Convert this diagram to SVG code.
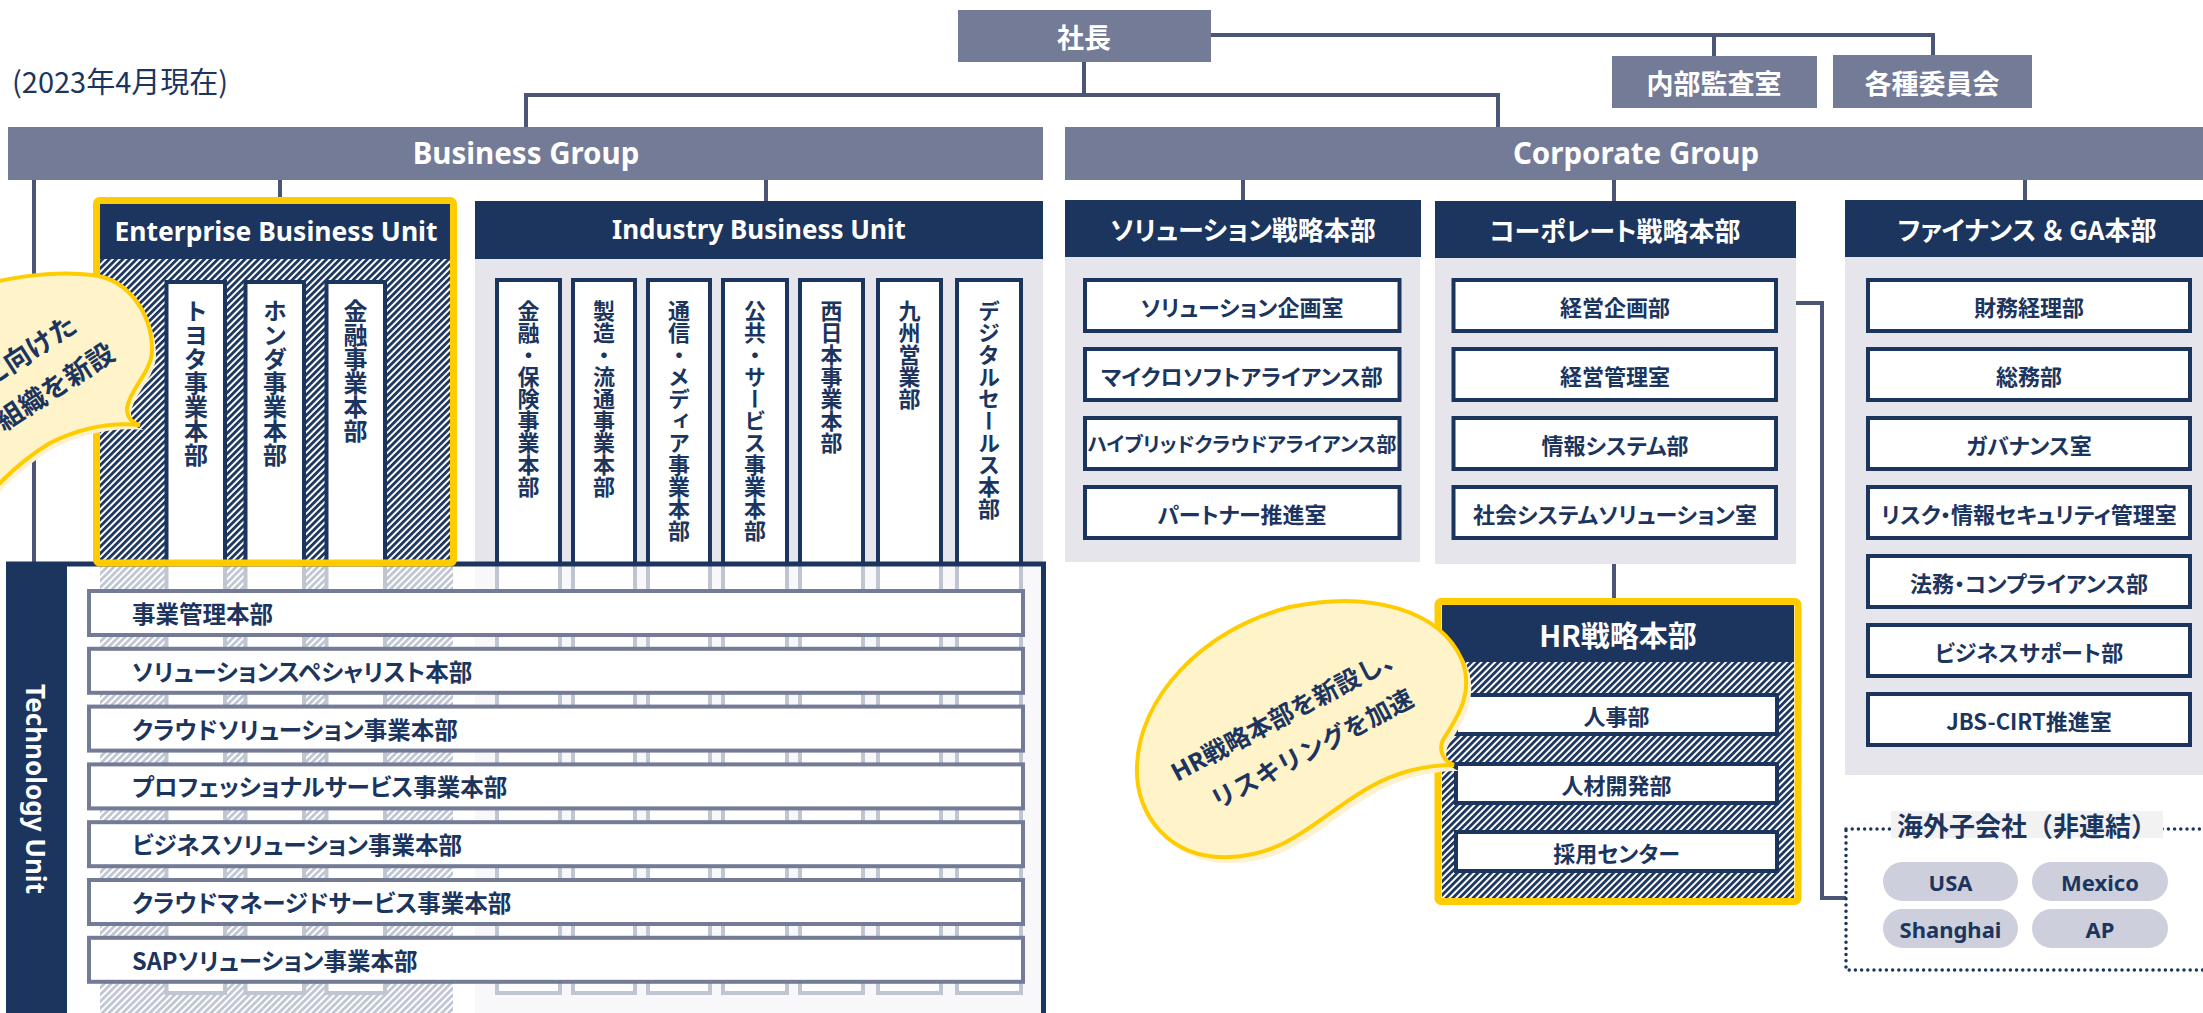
<svg xmlns="http://www.w3.org/2000/svg" width="2203" height="1013" viewBox="0 0 2203 1013">
<style>
.bar{fill:#737b97}
.navy{fill:#1c355e}
.panel{fill:#e5e5eb}
.box{fill:#fff;stroke:#1c355e;stroke-width:4}
.row{fill:#fff;stroke:#737b97;stroke-width:4}
.conn{fill:none;stroke:#4b5677;stroke-width:4}
.yel{fill:none;stroke:#ffcc00;stroke-width:7}
.wt{fill:#fff;font-family:"Noto Sans","Noto Sans CJK JP",sans-serif;font-weight:700;text-anchor:middle;dominant-baseline:central}
.wj{fill:#fff;font-family:"Noto Sans CJK JP","Noto Sans",sans-serif;font-weight:700;text-anchor:middle;dominant-baseline:central;font-feature-settings:"palt" 1}
.nj{fill:#1c355e;font-family:"Noto Sans CJK JP","Noto Sans",sans-serif;font-weight:700;font-size:22px;text-anchor:middle;dominant-baseline:central;font-feature-settings:"palt" 1}
.nj20{font-size:20px}
.rt{fill:#1c355e;font-family:"Noto Sans CJK JP","Noto Sans",sans-serif;font-weight:700;font-size:23.5px;dominant-baseline:central;font-feature-settings:"palt" 1}
.vt{fill:#1c355e;font-family:"Noto Sans CJK JP",sans-serif;font-weight:700;font-size:22px;writing-mode:vertical-rl}
.vt24{font-size:24px}
.pill{fill:#cdd0dc}
.pt{fill:#1c355e;font-family:"Noto Sans",sans-serif;font-weight:700;font-size:22px;text-anchor:middle;dominant-baseline:central}
.bub{fill:#fff3c9;stroke:#ffcc00;stroke-width:4}
.bubs{fill:#fdf1cf}
.bt{fill:#1c355e;font-family:"Noto Sans","Noto Sans CJK JP",sans-serif;font-weight:700}
</style>
<defs>
<pattern id="hatch" patternUnits="userSpaceOnUse" width="4.8" height="4.8" patternTransform="rotate(45)">
<rect width="4.8" height="4.8" fill="#fff"/>
<rect width="2.8" height="4.8" fill="#1c355e"/>
</pattern>
</defs>

<text x="12" y="93" style="fill:#1c355e;font-family:'Noto Sans CJK JP','Noto Sans',sans-serif;font-size:29px">(2023年4月現在)</text>

<g id="connectors">
<path class="conn" d="M1210,35 H1933 V56 M1714,35 V56"/>
<path class="conn" d="M1084,62 V95 M526,95 H1498 M526,93 V127 M1498,93 V127"/>
<path class="conn" d="M34,180 V562 M280,180 V198 M766,180 V201"/>
<path class="conn" d="M1243,180 V200 M1614,180 V201 M2025,180 V200"/>
<path class="conn" d="M1614,564 V598"/>
<path class="conn" d="M1778,303 H1822 V898 H1846"/>
</g>

<g id="president"><rect class="bar" x="958" y="10" width="253" height="52"/><text class="wj" x="1084" y="36" font-size="27">社長</text></g>
<g id="audit"><rect class="bar" x="1612" y="56" width="205" height="52"/><text class="wj" x="1714" y="82" font-size="27">内部監査室</text></g>
<g id="committees"><rect class="bar" x="1833" y="55" width="199" height="53"/><text class="wj" x="1932" y="82" font-size="27">各種委員会</text></g>

<g id="business-group"><rect class="bar" x="8" y="127" width="1035" height="53"/><text class="wt" x="526" y="152" font-size="29.5">Business Group</text></g>
<g id="corporate-group"><rect class="bar" x="1065" y="127" width="1138" height="53"/><text class="wt" x="1636" y="152" font-size="29.5">Corporate Group</text></g>

<g id="industry-bu">
<rect class="navy" x="475" y="201" width="568" height="58"/>
<text class="wt" x="759" y="229" font-size="26">Industry Business Unit</text>
<rect class="panel" x="475" y="259" width="568" height="754"/>
<rect class="box" x="497" y="280" width="63" height="713"/>
<rect class="box" x="573" y="280" width="62" height="713"/>
<rect class="box" x="648" y="280" width="62" height="713"/>
<rect class="box" x="723" y="280" width="64" height="713"/>
<rect class="box" x="800" y="280" width="63" height="713"/>
<rect class="box" x="878" y="280" width="63" height="713"/>
<rect class="box" x="957" y="280" width="64" height="713"/>
<text class="vt" x="528.5" y="300">金融・保険事業本部</text>
<text class="vt" x="604" y="300">製造・流通事業本部</text>
<text class="vt" x="679" y="300">通信・メディア事業本部</text>
<text class="vt" x="755" y="300">公共・サービス事業本部</text>
<text class="vt" x="831.5" y="300">西日本事業本部</text>
<text class="vt" x="909.5" y="300">九州営業部</text>
<text class="vt" x="989" y="300">デジタルセールス本部</text>
</g>

<g id="enterprise-bu">
<rect fill="url(#hatch)" x="100" y="259" width="353" height="754"/>
<rect class="navy" x="100" y="204" width="353" height="55"/>
<text class="wt" x="276" y="231" font-size="26.5">Enterprise Business Unit</text>
<rect class="box" x="166.5" y="282" width="58.5" height="711"/>
<rect class="box" x="245.5" y="282" width="58.5" height="711"/>
<rect class="box" x="326.5" y="282" width="58.5" height="711"/>
<text class="vt vt24" x="196" y="299">トヨタ事業本部</text>
<text class="vt vt24" x="275" y="299">ホンダ事業本部</text>
<text class="vt vt24" x="355.5" y="299">金融事業本部</text>
</g>

<g id="technology-unit">
<rect fill="#fff" opacity="0.72" x="67" y="566" width="976" height="447"/>
<rect x="8.5" y="564" width="1035" height="470" fill="none" stroke="#1c355e" stroke-width="5"/>
<rect class="navy" x="6" y="562" width="61" height="451"/>
<text class="wt" font-size="26" transform="translate(36,789) rotate(90)">Technology Unit</text>
<rect class="row" x="89" y="591" width="934" height="44"/>
<rect class="row" x="89" y="648.8" width="934" height="44"/>
<rect class="row" x="89" y="706.6" width="934" height="44"/>
<rect class="row" x="89" y="764.4" width="934" height="44"/>
<rect class="row" x="89" y="822.2" width="934" height="44"/>
<rect class="row" x="89" y="880" width="934" height="44"/>
<rect class="row" x="89" y="937.8" width="934" height="44"/>
<text class="rt" x="132" y="613">事業管理本部</text>
<text class="rt" x="132" y="670.8">ソリューションスペシャリスト本部</text>
<text class="rt" x="132" y="728.6">クラウドソリューション事業本部</text>
<text class="rt" x="132" y="786.4">プロフェッショナルサービス事業本部</text>
<text class="rt" x="132" y="844.2">ビジネスソリューション事業本部</text>
<text class="rt" x="132" y="902">クラウドマネージドサービス事業本部</text>
<text class="rt" x="132" y="959.8">SAPソリューション事業本部</text>
</g>

<rect class="yel" x="96.5" y="200.5" width="357" height="362.5" rx="3"/>

<g id="solution-hq">
<rect class="navy" x="1065" y="200" width="356" height="57"/>
<text class="wj" x="1243" y="228" font-size="26">ソリューション戦略本部</text>
<rect class="panel" x="1065" y="257" width="355" height="305"/>
<rect class="box" x="1085" y="280" width="314.5" height="51"/>
<rect class="box" x="1085" y="349" width="314.5" height="51"/>
<rect class="box" x="1085" y="418" width="314.5" height="51"/>
<rect class="box" x="1085" y="487" width="314.5" height="51"/>
<text class="nj" x="1242" y="305.5">ソリューション企画室</text>
<text class="nj" x="1242" y="374.5">マイクロソフトアライアンス部</text>
<text class="nj nj20" x="1242" y="443.5">ハイブリッドクラウドアライアンス部</text>
<text class="nj" x="1242" y="512.5">パートナー推進室</text>
</g>

<g id="corporate-hq">
<rect class="navy" x="1435" y="201" width="361" height="57"/>
<text class="wj" x="1615" y="229" font-size="26">コーポレート戦略本部</text>
<rect class="panel" x="1435" y="258" width="361" height="306"/>
<rect class="box" x="1453.5" y="280" width="322.5" height="51"/>
<rect class="box" x="1453.5" y="349" width="322.5" height="51"/>
<rect class="box" x="1453.5" y="418" width="322.5" height="51"/>
<rect class="box" x="1453.5" y="487" width="322.5" height="51"/>
<text class="nj" x="1615" y="305.5">経営企画部</text>
<text class="nj" x="1615" y="374.5">経営管理室</text>
<text class="nj" x="1615" y="443.5">情報システム部</text>
<text class="nj" x="1615" y="512.5">社会システムソリューション室</text>
</g>

<g id="finance-hq">
<rect class="navy" x="1845" y="200" width="358" height="57"/>
<text class="wj" x="2027" y="228" font-size="26">ファイナンス ＆ GA本部</text>
<rect class="panel" x="1845" y="257" width="358" height="518"/>
<rect class="box" x="1868" y="280" width="322" height="51"/>
<rect class="box" x="1868" y="349" width="322" height="51"/>
<rect class="box" x="1868" y="418" width="322" height="51"/>
<rect class="box" x="1868" y="487" width="322" height="51"/>
<rect class="box" x="1868" y="556" width="322" height="51"/>
<rect class="box" x="1868" y="625" width="322" height="51"/>
<rect class="box" x="1868" y="694" width="322" height="51"/>
<text class="nj" x="2029" y="305.5">財務経理部</text>
<text class="nj" x="2029" y="374.5">総務部</text>
<text class="nj" x="2029" y="443.5">ガバナンス室</text>
<text class="nj" x="2029" y="512.5">リスク・情報セキュリティ管理室</text>
<text class="nj" x="2029" y="581.5">法務・コンプライアンス部</text>
<text class="nj" x="2029" y="650.5">ビジネスサポート部</text>
<text class="nj" x="2029" y="719.5">JBS-CIRT推進室</text>
</g>

<g id="hr-hq">
<rect class="navy" x="1442" y="605" width="352" height="57"/>
<text class="wj" x="1618" y="634" font-size="29">HR戦略本部</text>
<rect fill="url(#hatch)" x="1442" y="662" width="352" height="236"/>
<rect class="box" x="1456" y="695" width="321" height="39"/>
<rect class="box" x="1456" y="764" width="321" height="39"/>
<rect class="box" x="1456" y="832" width="321" height="39"/>
<text class="nj" x="1616.5" y="714.5">人事部</text>
<text class="nj" x="1616.5" y="783.5">人材開発部</text>
<text class="nj" x="1616.5" y="851.5">採用センター</text>
<rect class="yel" x="1438" y="601.5" width="360" height="300" rx="3"/>
</g>

<g id="overseas">
<rect x="1846" y="829" width="362" height="141" fill="none" stroke="#1c355e" stroke-width="3.5" stroke-dasharray="0 6.2" stroke-linecap="round"/>
<rect x="1891" y="811" width="272" height="27" fill="#f2f2f2"/>
<text x="2027" y="824.5" style="fill:#1c355e;font-family:'Noto Sans CJK JP',sans-serif;font-weight:700;font-size:26px;text-anchor:middle;dominant-baseline:central">海外子会社（非連結）</text>
<rect class="pill" x="1883" y="862" width="135" height="39" rx="19.5"/>
<rect class="pill" x="2032" y="862" width="136" height="39" rx="19.5"/>
<rect class="pill" x="1883" y="909" width="135" height="39" rx="19.5"/>
<rect class="pill" x="2032" y="909" width="136" height="39" rx="19.5"/>
<text class="pt" x="1950.5" y="881.5">USA</text>
<text class="pt" x="2100" y="881.5">Mexico</text>
<text class="pt" x="1950.5" y="928.5">Shanghai</text>
<text class="pt" x="2100" y="928.5">AP</text>
</g>

<g id="callout-enterprise">
<path class="bubs" transform="translate(4,5)" d="M-40,292 C0,278 50,270 93,275 C130,280 152,315 152,350 C152,372 130,388 127,408 C127,418 132,423 140,425 C110,422 80,428 50,443 C30,455 12,470 -5,488 L-40,520 Z"/>
<path class="bub" d="M-40,292 C0,278 50,270 93,275 C130,280 152,315 152,350 C152,372 130,388 127,408 C127,418 132,423 140,425 C110,422 80,428 50,443 C30,455 12,470 -5,488 L-40,520 Z"/>
<text class="bt" font-size="27" text-anchor="end" transform="translate(79,330) rotate(-33)">に向けた</text>
<text class="bt" font-size="27" text-anchor="end" transform="translate(117,358) rotate(-33)">組織を新設</text>
</g>

<g id="callout-hr">
<path class="bubs" transform="translate(5,6)" d="M1454,765 C1430,765 1400,770 1370,787 C1320,815 1290,855 1230,857 C1170,860 1135,815 1137,767 C1138,700 1200,630 1290,607 C1370,590 1440,610 1462,660 C1475,695 1455,720 1443,740 C1438,750 1444,762 1454,765 Z"/>
<path class="bub" d="M1454,765 C1430,765 1400,770 1370,787 C1320,815 1290,855 1230,857 C1170,860 1135,815 1137,767 C1138,700 1200,630 1290,607 C1370,590 1440,610 1462,660 C1475,695 1455,720 1443,740 C1438,750 1444,762 1454,765 Z"/>
<text class="bt" font-size="25" transform="translate(1177,782) rotate(-28)">HR戦略本部を新設し、</text>
<text class="bt" font-size="25" transform="translate(1217,810) rotate(-28)">リスキリングを加速</text>
</g>
</svg>
